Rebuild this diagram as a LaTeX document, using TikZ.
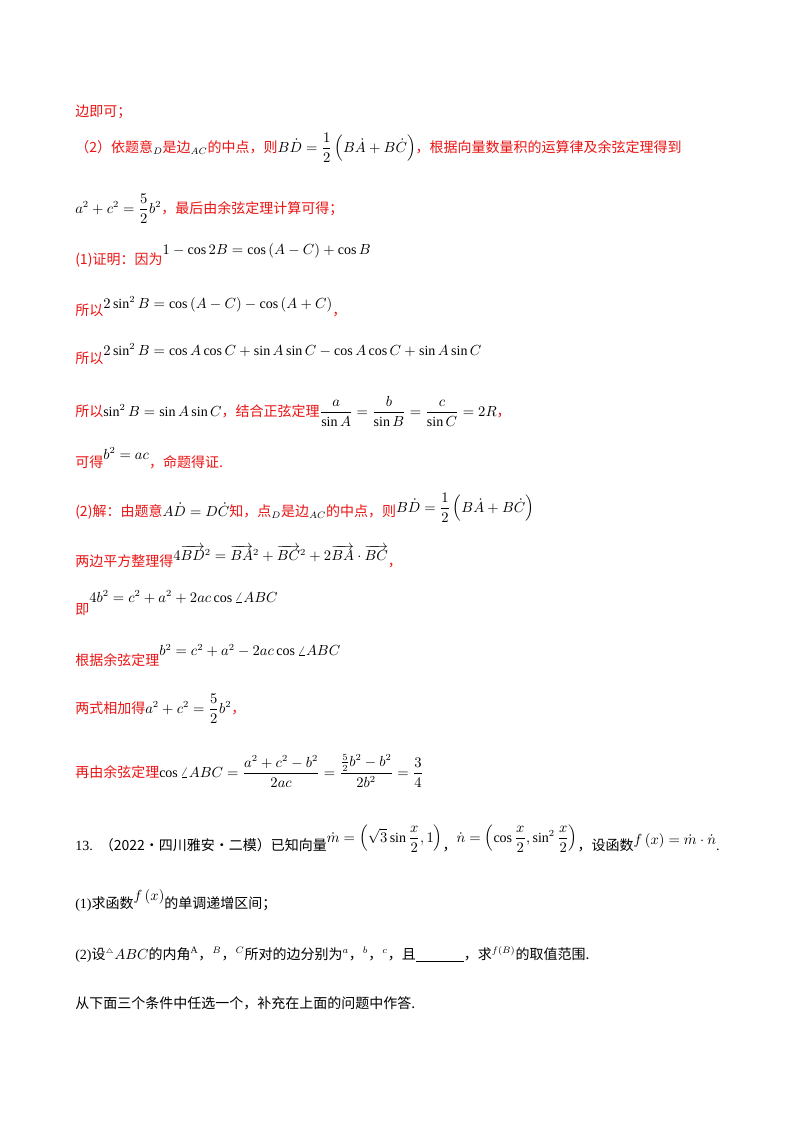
\documentclass[tikz,border=0pt]{standalone}
\usepackage{amsmath}
\usepackage{fontspec}
\setmainfont{Liberation Serif}
\newfontfamily\cjk{Noto Sans CJK SC}
\definecolor{rd}{RGB}{235,20,20}
\newcommand{\rt}[1]{{\color{rd}\cjk #1}}
\newcommand{\bt}[1]{{\cjk #1}}
\tikzset{ln/.style={anchor=base west,inner sep=0pt,font=\fontsize{10.5pt}{12pt}\selectfont}}
\begin{document}
\begin{tikzpicture}[x=0.75pt,y=-0.75pt]
\useasboundingbox[fill=white] (0,0) rectangle (800,1132);
\node[ln] (l1) at (75,116) {\rt{边即可；}};
\node[ln] (l2) at (75,152) {\rt{（2）依题意}$_{D}$\rt{是边}$_{AC}$\rt{的中点，则}$B\dot{D}=\dfrac12\left(B\dot{A}+B\dot{C}\right)$\rt{，根据向量数量积的运算律及余弦定理得到}};
\node[ln] (l3) at (75,213) {$a^2+c^2=\dfrac52 b^2$\rt{，最后由余弦定理计算可得；}};
\node[ln] (l4) at (75,264) {\rt{(1)证明：因为}\raisebox{7pt}{$1-\cos 2B=\cos\left(A-C\right)+\cos B$}};
\node[ln] (l5) at (75,315) {\rt{所以}\raisebox{5pt}{$2\sin^2 B=\cos\left(A-C\right)-\cos\left(A+C\right)$}\rt{，}};
\node[ln] (l6) at (75,363) {\rt{所以}\raisebox{6pt}{$2\sin^2 B=\cos A\cos C+\sin A\sin C-\cos A\cos C+\sin A\sin C$}};
\node[ln] (l7) at (75,416) {\rt{所以}$\sin^2 B=\sin A\sin C$\rt{，结合正弦定理}$\dfrac{a}{\sin A}=\dfrac{b}{\sin B}=\dfrac{c}{\sin C}=2R$\rt{，}};
\node[ln] (l8) at (75,467) {\rt{可得}\raisebox{6pt}{$b^2=ac$}\rt{，命题得证.}};
\node[ln] (l9) at (75,516) {\rt{(2)解：由题意}$A\dot{D}=D\dot{C}$\rt{知，点}$_{D}$\rt{是边}$_{AC}$\rt{的中点，则}\raisebox{3pt}{$B\dot{D}=\dfrac12\left(B\dot{A}+B\dot{C}\right)$}};
\node[ln] (l10) at (75,566) {\rt{两边平方整理得}\raisebox{4pt}{$4\overrightarrow{BD}^2=\overrightarrow{BA}^2+\overrightarrow{BC}^2+2\overrightarrow{BA}\cdot\overrightarrow{BC}$}\rt{，}};
\node[ln] (l11) at (75,614) {\rt{即}\raisebox{9pt}{$4b^2=c^2+a^2+2ac\cos\angle ABC$}};
\node[ln] (l12) at (75,665) {\rt{根据余弦定理}\raisebox{7pt}{$b^2=c^2+a^2-2ac\cos\angle ABC$}};
\node[ln] (l13) at (75,713) {\rt{两式相加得}$a^2+c^2=\dfrac52b^2$\rt{，}};
\node[ln] (l14) at (75,777) {\rt{再由余弦定理}$\cos\angle ABC=\dfrac{a^2+c^2-b^2}{2ac}=\dfrac{\frac52b^2-b^2}{2b^2}=\dfrac34$};
\node[ln] (l15) at (75,850) {13.\ \ \bt{（2022·四川雅安·二模）已知向量}\raisebox{6pt}{$\dot{m}=\left(\sqrt3\sin\dfrac x2,1\right)$}\bt{，}\raisebox{6pt}{$\dot{n}=\left(\cos\dfrac x2,\sin^2\dfrac x2\right)$}\bt{，设函数}\raisebox{4pt}{$f\left(x\right)=\dot m\cdot\dot n$}.};
\node[ln] (l16) at (75,908) {(1)\bt{求函数}\raisebox{6pt}{$f\left(x\right)$}\bt{的单调递增区间；}};
\node[ln] (l17) at (75,959) {(2)\bt{设}$^{\scriptscriptstyle\triangle}ABC$\bt{的内角}$^{\mathrm A}$\bt{，}$^{B}$\bt{，}$^{C}$\bt{所对的边分别为}$^{a}$\bt{，}$^{b}$\bt{，}$^{c}$\bt{，且}\underline{\hspace{36pt}}\bt{，求}$^{f\left(B\right)}$\bt{的取值范围.}};
\node[ln] (l18) at (75,1008) {\bt{从下面三个条件中任选一个，补充在上面的问题中作答.}};
\end{tikzpicture}
\end{document}
